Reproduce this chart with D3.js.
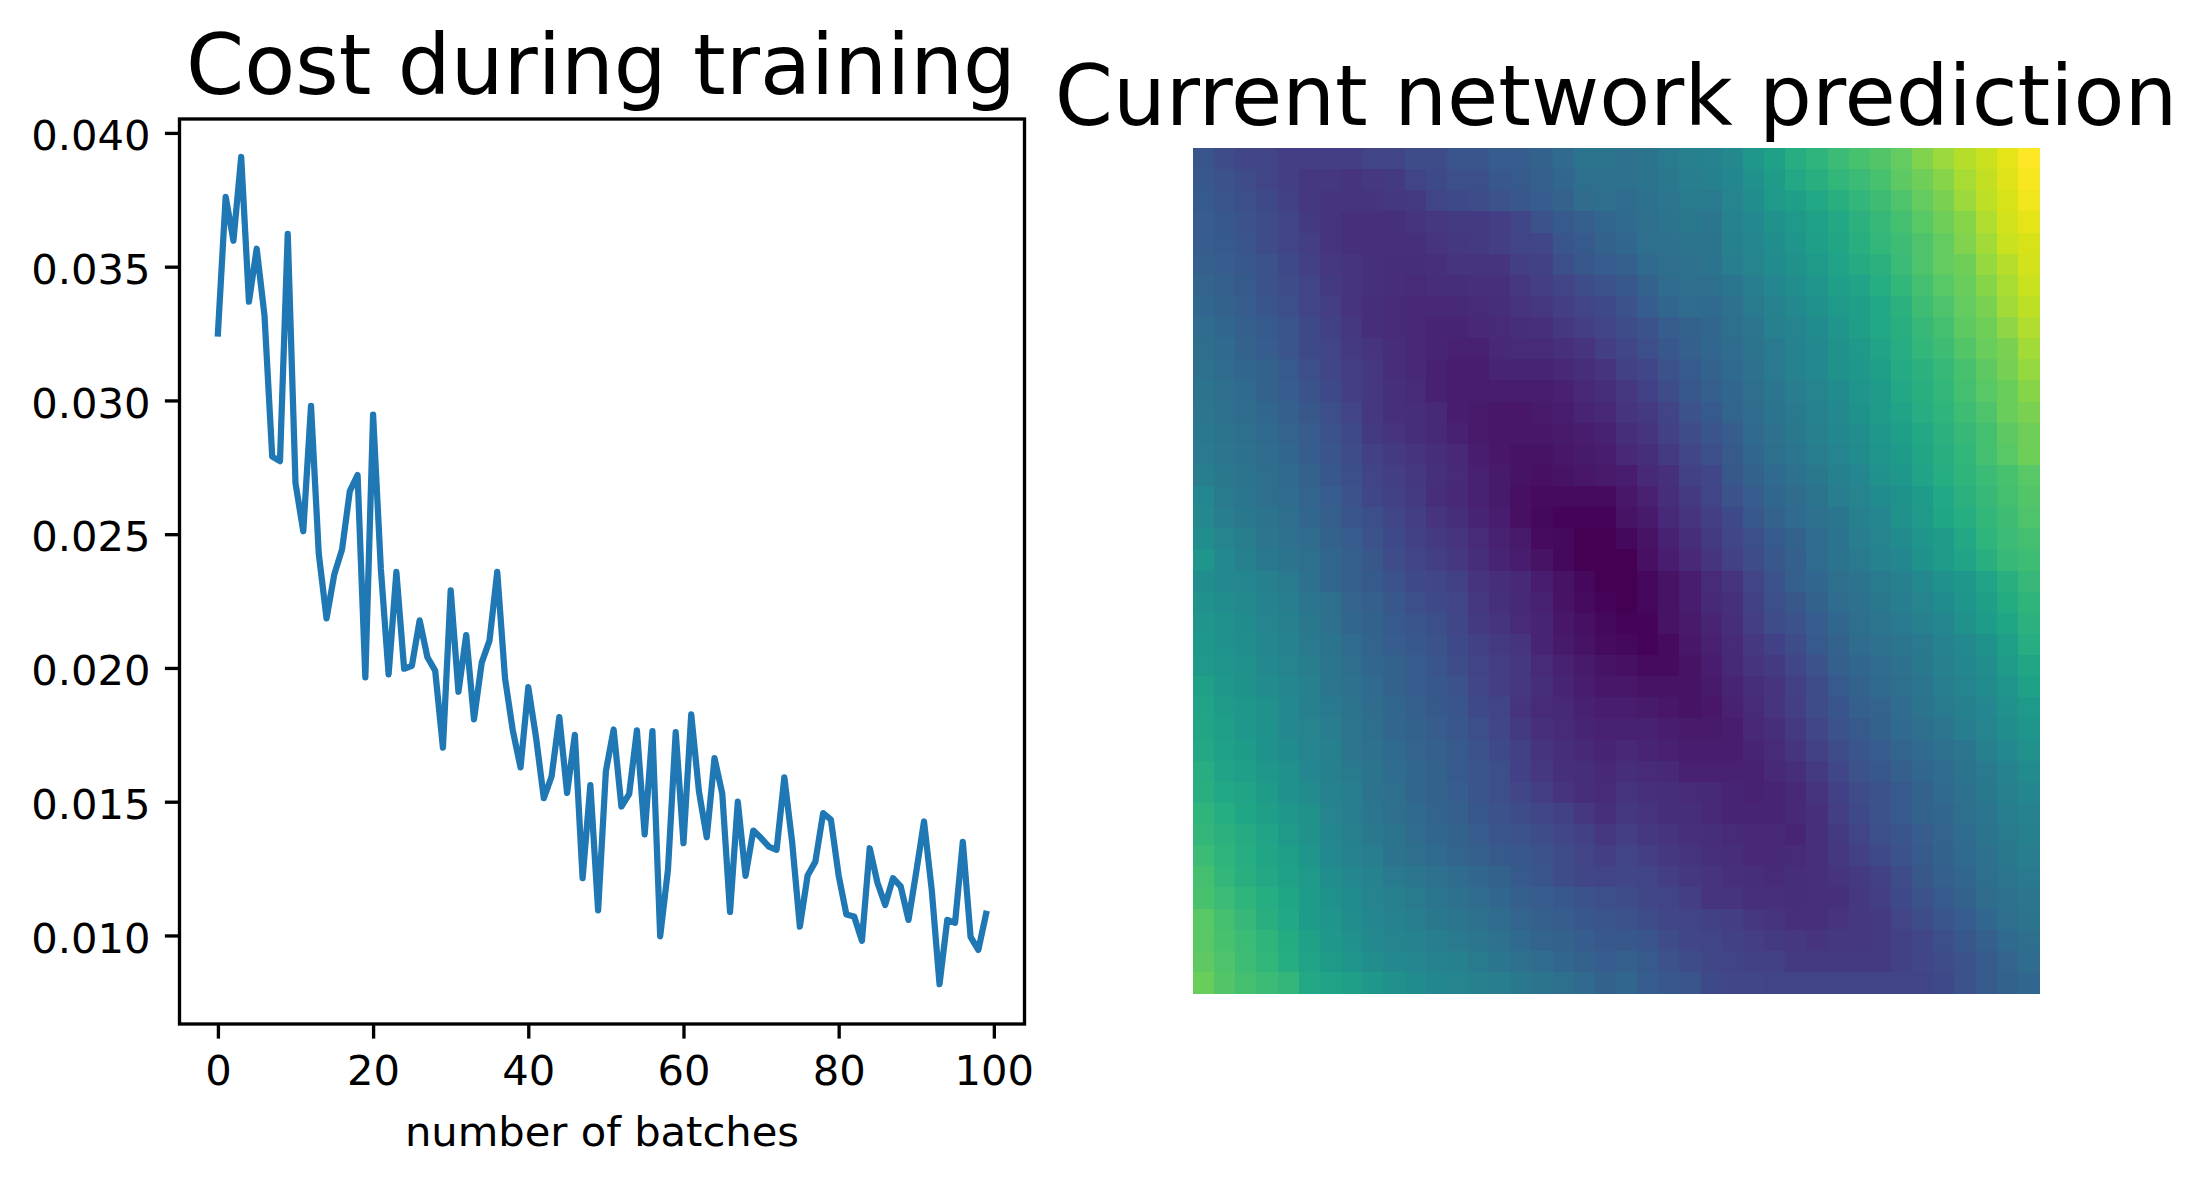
<!DOCTYPE html>
<html><head><meta charset="utf-8">
<script src="https://cdn.jsdelivr.net/npm/d3@7"></script>
<style>
html,body{margin:0;padding:0;background:#fff}
svg{display:block}
text{font-family:"DejaVu Sans";fill:#000}
</style></head><body>
<svg id="c" width="2208" height="1184"></svg>
<script>
const titleCost = "Cost during training";
const titlePred = "Current network prediction";
const xLabel = "number of batches";
const xTicks = [0,20,40,60,80,100];
const yTicks = [0.010,0.015,0.020,0.025,0.030,0.035,0.040];
const costValues = [
0.0325,0.03761,0.03597,0.0391,0.03369,0.03567,0.03319,0.0279,0.02773,0.03623,
0.0269,0.02511,0.0298,0.02426,0.02185,0.0235,0.02443,0.02661,0.02721,0.01965,
0.02947,0.0237,0.01976,0.02359,0.01997,0.02008,0.02178,0.0204,0.0199,0.01702,
0.0229,0.01911,0.02123,0.01808,0.0202,0.02102,0.02359,0.01962,0.01767,0.01628,
0.01928,0.0174,0.01513,0.01594,0.01816,0.01533,0.0175,0.01214,0.01562,0.01094,
0.01614,0.0177,0.01482,0.01528,0.01767,0.01378,0.01764,0.00997,0.01245,0.0176,
0.01345,0.01826,0.01537,0.01367,0.01663,0.0153,0.01088,0.0150,0.01223,0.01392,
0.01364,0.01332,0.0132,0.01591,0.0135,0.01033,0.01224,0.01276,0.01457,0.01433,
0.01224,0.01078,0.01071,0.0098,0.01326,0.01197,0.01114,0.01214,0.01183,0.01058,
0.01238,0.01426,0.01169,0.00818,0.01058,0.01047,0.0135,0.00995,0.00946,0.01081];
const predictionRows = [
[26,23,21,20,18,18,18,18,20,20,23,23,26,26,29,29,31,34,38,38,37,38,41,43,44,47,53,57,62,65,68,71,73,76,81,85,89,92,96,100],
[27,25,23,20,18,16,16,15,16,17,20,22,24,24,27,28,30,33,36,37,37,38,40,42,43,46,50,55,60,63,66,68,71,75,78,82,87,91,95,99],
[28,26,24,22,19,16,15,15,15,16,17,20,22,23,25,27,29,31,35,36,35,37,39,41,41,45,49,54,56,60,63,66,69,72,76,80,85,90,94,98],
[29,27,25,23,20,17,15,14,14,14,15,16,17,17,18,21,25,28,30,33,34,36,38,40,39,44,47,51,54,57,60,64,67,70,74,78,82,88,93,96],
[29,28,26,23,20,18,15,14,14,14,14,15,16,17,18,20,21,26,28,31,33,36,37,38,38,43,46,49,52,56,59,63,66,69,72,76,81,86,92,94],
[30,29,27,25,22,19,16,15,14,13,13,14,15,15,15,18,19,24,27,29,30,34,36,37,38,42,45,48,50,54,58,61,64,68,72,76,78,84,89,93],
[32,30,28,25,23,20,17,15,14,13,12,13,13,14,14,16,18,20,23,25,27,31,35,36,36,39,42,46,49,52,56,58,62,66,70,74,77,82,87,92],
[33,31,29,26,24,20,18,15,13,12,11,11,11,12,13,15,16,18,20,22,25,29,33,35,34,37,41,44,47,50,54,56,60,64,69,72,76,80,86,90],
[35,33,30,28,26,22,19,16,13,12,11,10,10,11,12,13,14,16,18,20,23,25,29,31,33,36,39,43,45,48,52,56,60,63,67,70,75,78,83,88],
[36,34,31,29,26,22,20,17,15,13,11,10,9,9,11,12,12,14,15,18,21,24,27,30,33,35,38,41,44,47,50,54,58,62,66,69,73,77,80,86],
[37,35,33,31,28,24,21,18,16,13,11,9,8,8,10,10,10,11,13,15,19,21,25,28,31,34,37,41,44,47,50,53,56,61,64,67,71,75,79,84],
[38,36,34,31,29,25,22,18,16,14,12,9,8,8,8,8,8,9,11,13,16,19,23,27,30,33,36,39,42,45,48,52,55,60,63,66,70,74,77,82],
[39,37,35,33,30,27,24,20,16,14,13,11,8,7,6,6,7,8,10,11,15,17,20,25,28,32,35,38,41,44,47,51,55,58,62,65,69,72,77,80],
[40,38,36,34,32,29,25,22,17,15,13,11,9,7,6,6,6,7,8,9,13,15,19,23,26,29,34,37,40,43,46,49,53,56,60,64,67,70,75,78],
[41,39,37,35,33,29,26,23,19,17,15,13,11,8,6,5,5,6,7,8,11,13,17,21,24,28,33,36,39,42,45,48,52,55,59,63,66,70,74,78],
[42,40,38,36,34,31,27,24,20,18,16,14,12,9,7,5,4,5,6,7,8,11,14,19,21,27,31,34,37,40,43,46,50,53,58,62,65,68,71,74],
[46,41,39,36,35,32,29,25,21,19,17,13,11,9,7,4,3,3,3,3,6,9,13,17,20,25,29,33,35,38,42,45,48,51,55,60,64,67,70,73],
[47,42,40,38,36,33,30,26,24,21,18,15,13,10,8,4,2,1,1,1,5,7,11,15,18,22,27,31,34,37,39,43,46,50,54,59,62,66,69,72],
[49,45,42,39,37,35,31,29,25,22,19,17,15,12,9,7,3,2,0,0,2,5,9,13,17,21,24,28,31,35,38,42,45,48,52,55,60,65,68,70],
[52,47,43,40,38,36,33,30,27,23,20,18,16,13,10,8,5,2,0,0,0,4,8,11,15,19,23,27,30,35,38,41,44,46,51,55,58,63,67,69],
[49,47,46,43,41,37,33,30,28,25,22,21,19,15,13,11,8,5,2,0,0,2,5,8,12,15,20,25,30,33,36,38,41,43,47,50,53,58,63,67],
[50,49,47,44,42,39,36,32,30,27,24,22,20,16,14,11,9,5,3,1,0,2,5,8,11,14,19,24,27,31,35,37,40,42,45,48,52,56,61,65],
[52,50,48,45,43,40,37,33,31,28,26,24,21,17,15,12,10,6,4,2,1,1,5,7,10,13,18,23,25,29,33,36,39,41,43,46,50,55,59,64],
[53,51,49,46,44,41,38,35,32,29,27,25,22,19,17,15,10,7,5,3,2,1,3,6,9,12,16,19,23,28,31,35,37,39,41,44,47,51,56,62],
[54,52,50,47,45,42,39,36,33,31,29,26,23,20,18,16,12,9,7,5,4,3,3,5,8,11,15,17,21,25,30,33,35,37,40,43,46,49,55,59],
[57,53,51,48,46,43,39,37,34,31,29,27,25,21,18,16,13,10,8,6,6,5,5,5,7,10,13,15,19,23,28,31,34,36,39,42,45,48,52,57],
[58,55,53,50,47,43,41,38,35,33,30,28,26,22,20,15,12,11,9,8,8,7,6,5,6,9,12,15,18,23,26,30,32,35,38,41,43,46,50,54],
[59,56,53,51,47,45,42,39,36,33,31,29,27,24,21,17,14,12,10,9,9,9,8,7,7,8,11,13,17,21,25,28,31,34,36,39,42,45,49,52],
[60,57,55,51,48,45,43,39,37,34,32,30,28,25,22,19,15,13,11,10,11,10,9,8,8,8,10,12,15,19,23,26,29,32,34,37,39,43,47,50],
[62,58,56,53,50,46,43,41,38,35,33,31,28,26,24,19,16,14,13,11,13,12,11,9,9,9,9,11,13,17,21,25,27,30,33,35,38,41,44,48],
[63,60,58,55,51,48,44,42,38,36,33,31,29,26,24,21,18,15,13,12,15,14,13,12,11,10,9,10,11,15,19,23,25,28,31,34,37,40,43,46],
[65,62,59,56,53,50,45,42,39,36,34,32,30,27,25,23,21,19,16,14,16,15,13,13,11,10,10,10,11,14,18,22,25,28,31,33,36,39,42,44],
[66,64,61,58,54,50,46,43,40,38,35,33,31,29,26,25,23,21,19,16,18,16,15,14,13,12,11,11,10,14,17,20,24,26,29,32,35,38,41,43],
[68,65,62,59,56,52,47,44,42,38,36,34,32,30,28,27,25,23,20,18,20,18,16,15,14,13,11,11,12,14,16,19,22,25,28,31,34,37,40,42],
[70,66,63,60,57,54,49,46,44,41,39,37,35,33,31,28,26,23,21,20,21,20,18,16,15,14,13,12,13,14,15,17,19,23,27,30,33,36,39,41],
[71,68,65,62,59,55,51,48,45,43,41,39,37,35,33,30,29,27,25,24,23,21,20,18,15,15,14,14,13,14,14,16,18,22,25,28,31,35,37,39],
[74,70,67,63,60,55,52,49,46,44,42,40,39,37,35,32,30,29,27,26,25,23,21,20,19,18,16,15,14,14,15,16,17,20,23,26,29,33,36,38],
[74,71,68,65,61,57,53,50,47,45,44,42,41,39,37,34,32,31,29,27,27,26,23,21,20,19,18,17,16,15,16,16,17,19,21,24,27,30,34,36],
[75,72,69,66,62,58,55,52,49,47,46,44,43,41,39,37,35,33,31,29,30,28,25,23,21,20,19,19,17,17,17,17,17,19,21,23,25,28,32,35],
[77,73,70,68,66,60,58,56,53,50,48,46,45,43,42,40,38,36,34,31,33,29,27,26,22,21,21,20,20,20,20,20,20,20,20,22,25,28,31,33]
];

const svg = d3.select("#c");
const left = {x0:179.5,x1:1024.5,y0:119,y1:1024};
const right = {x0:1193,x1:2039,y0:148,y1:993};

// Left panel
const x = d3.scaleLinear().domain([-4.95,103.95]).range([left.x0,left.x1]);
const y = d3.scaleLinear().domain([0.00669,0.04052]).range([left.y1,left.y0]);
const line = d3.line().x((d,i)=>x(i)).y(d=>y(d));
svg.append("path").datum(costValues).attr("d",line)
  .attr("fill","none").attr("stroke","#1f77b4").attr("stroke-width",6.25)
  .attr("stroke-linejoin","round").attr("stroke-linecap","square");

const gx = svg.append("g").attr("transform",`translate(0,${left.y1})`)
  .call(d3.axisBottom(x).tickValues(xTicks).tickSize(14.6).tickPadding(17).tickFormat(d3.format("d")));
const gy = svg.append("g").attr("transform",`translate(${left.x0},0)`)
  .call(d3.axisLeft(y).tickValues(yTicks).tickSize(14.6).tickPadding(14.5).tickFormat(d3.format(".3f")));
[gx,gy].forEach(g=>{
  g.select(".domain").remove();
  g.selectAll(".tick line").attr("stroke","#000").attr("stroke-width",3.33);
  g.selectAll("text").style("font-family",'"DejaVu Sans"').style("font-size","41.67px").attr("fill","#000");
});
gy.selectAll("text").attr("dy","0.40em");
svg.append("rect").attr("x",left.x0).attr("y",left.y0)
  .attr("width",left.x1-left.x0).attr("height",left.y1-left.y0)
  .attr("fill","none").attr("stroke","#000").attr("stroke-width",3.33);

svg.append("text").attr("x",(left.x0+left.x1)/2).attr("y",1145.5).attr("text-anchor","middle")
  .style("font-size","41.67px").text(xLabel);
svg.append("text").attr("x",(left.x0+left.x1)/2-1).attr("y",94).attr("text-anchor","middle")
  .style("font-size","83.33px").text(titleCost);

// Right panel
const n = predictionRows.length;
const cx = d3.scaleLinear().domain([0,predictionRows[0].length]).range([right.x0,right.x1]);
const cy = d3.scaleLinear().domain([0,n]).range([right.y0,right.y1]);
const color = d3.scaleSequential(d3.interpolateViridis).domain([0,100]);
svg.append("g").attr("shape-rendering","crispEdges").selectAll("g").data(predictionRows).join("g")
  .each(function(row,r){
    d3.select(this).selectAll("rect").data(row).join("rect")
      .attr("x",(d,c)=>cx(c)).attr("y",cy(r))
      .attr("width",(d,c)=>cx(c+1)-cx(c)+0.5).attr("height",cy(r+1)-cy(r)+0.5)
      .attr("fill",d=>color(d));
  });
svg.append("text").attr("x",(right.x0+right.x1)/2).attr("y",125).attr("text-anchor","middle")
  .style("font-size","83.33px").text(titlePred);
</script>
</body></html>
